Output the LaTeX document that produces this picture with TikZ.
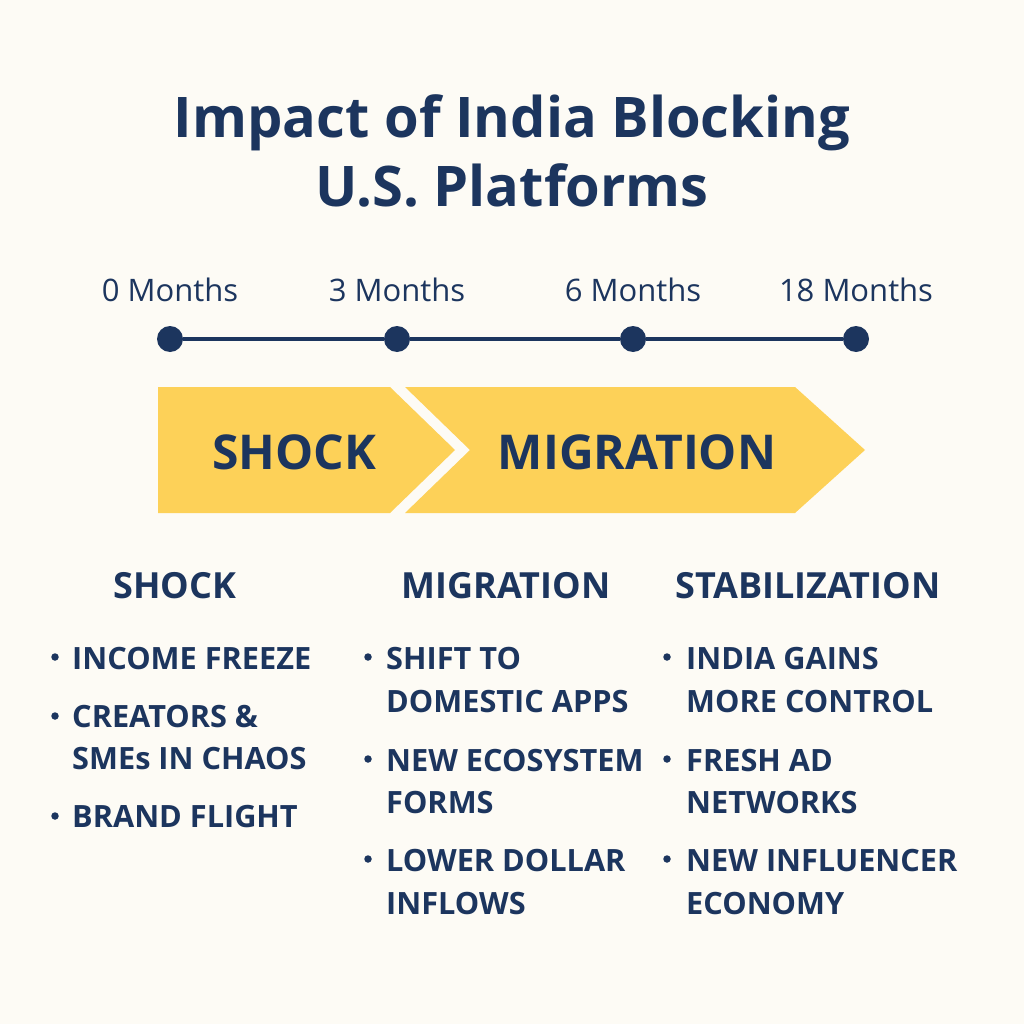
\documentclass[tikz,border=0pt]{standalone}
\usepackage{fontspec}
\setmainfont{Open Sans}
\usetikzlibrary{positioning}
\definecolor{navy}{HTML}{1C355E}
\definecolor{gold}{HTML}{FDD158}
\definecolor{cream}{HTML}{FDFBF5}

\begin{document}
\begin{tikzpicture}[x=1pt, y=-1pt, every node/.style={text=navy, inner sep=0pt},
  dot/.style={circle, fill=navy, minimum size=26pt},
  bul/.style={circle, fill=navy, minimum size=7.5pt},
  month/.style={font=\fontsize{31}{34}\selectfont},
  chev/.style={font=\fontsize{48}{60}\selectfont\bfseries},
  head/.style={anchor=base, font=\fontsize{36}{40}\selectfont\bfseries},
  item/.style={anchor=base west, font=\fontsize{30.7}{36}\selectfont\bfseries}]
  \fill[cream] (0,0) rectangle (1024,1024);
  \useasboundingbox (0,0) rectangle (1024,1024);
  % title
  \node[anchor=base, font=\fontsize{56}{70}\selectfont\bfseries] (title1) at (512,138) {Impact of India Blocking};
  \node[anchor=base, font=\fontsize{56}{70}\selectfont\bfseries] (title2) at (512,207) {U.S. Platforms};
  % timeline
  \foreach \x [count=\i from 0] in {170,397,633,856}
    \node[dot] (t\i) at (\x,339) {};
  \draw[navy, line width=4pt] (t0) -- (t1) -- (t2) -- (t3);
  \foreach \t [count=\i from 0] in {0 Months, 3 Months, 6 Months, 18 Months}
    \node[month, above=24pt of t\i] (m\i) {\t};
  % phases
  \fill[gold] (158,387) -- (390,387) -- (455,450) -- (390,513) -- (158,513) -- cycle;
  \fill[gold] (405,387) -- (795,387) -- (865,450) -- (795,513) -- (405,513) -- (470,450) -- cycle;
  \node[chev] (shock) at (294,452) {SHOCK};
  \node[chev] (migr) at (637,452) {MIGRATION};
  % columns
  \node[head] (h1) at (175,598) {SHOCK};
  \node[head] (h2) at (506,598) {MIGRATION};
  \node[head] (h3) at (808,598) {STABILIZATION};
  \foreach \y/\t [count=\i] in {669/INCOME FREEZE, 727/CREATORS \&, 769/SMEs IN CHAOS, 827/BRAND FLIGHT}
    \node[item] (a\i) at (72,\y) {\t};
  \foreach \y/\t [count=\i] in {669/SHIFT TO, 712/DOMESTIC APPS, 771/NEW ECOSYSTEM, 813/FORMS, 871/LOWER DOLLAR, 914/INFLOWS}
    \node[item] (b\i) at (386,\y) {\t};
  \foreach \y/\t [count=\i] in {669/INDIA GAINS, 712/MORE CONTROL, 771/FRESH AD, 813/NETWORKS, 871/NEW INFLUENCER, 914/ECONOMY}
    \node[item] (c\i) at (686,\y) {\t};
  \foreach \y [count=\i] in {657,716,816}
    \node[bul] (ba\i) at (55,\y) {};
  \foreach \y [count=\i] in {657,759,859}
    \node[bul] (bb\i) at (368,\y) {};
  \foreach \y [count=\i] in {657,759,859}
    \node[bul] (bc\i) at (667,\y) {};
\end{tikzpicture}
\end{document}
